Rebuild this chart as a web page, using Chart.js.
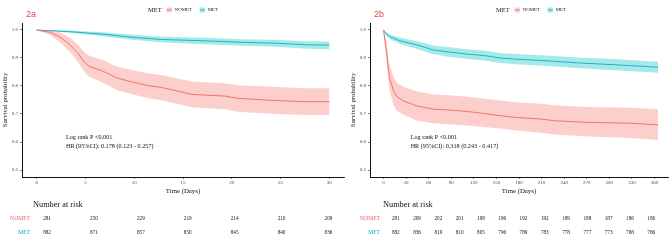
<!DOCTYPE html>
<html>
<head>
<meta charset="utf-8">
<script src="https://cdn.jsdelivr.net/npm/chart.js@4.4.0/dist/chart.umd.min.js"></script>
<style>
  html, body { margin: 0; padding: 0; background: #fff; }
  #wrap { position: relative; width: 669px; height: 242px; overflow: hidden; }
  .panel { position: absolute; top: 0; height: 242px; }
</style>
</head>
<body>
<div id="wrap">
  <div class="panel" style="left:0;width:346px"><canvas id="chart2a"></canvas></div>
  <div class="panel" style="left:334px;width:335px"><canvas id="chart2b"></canvas></div>
</div>
<script>
// ---- 2a : 30 days ----
var nometDaysA  = [0, 1.35, 2.35, 3.4, 4.2, 4.9, 5.4, 6.8, 8.2, 9.5, 11.2, 12.9, 14.6, 15.9, 19.3, 20.6, 24, 27.5, 30];
var nometSurvA  = [1, 0.992, 0.976, 0.947, 0.918, 0.885, 0.87, 0.853, 0.829, 0.817, 0.803, 0.794, 0.781, 0.77, 0.764, 0.756, 0.749, 0.744, 0.744];
var nometUpperA = [1, 0.998, 0.992, 0.972, 0.948, 0.92, 0.908, 0.893, 0.87, 0.859, 0.846, 0.838, 0.826, 0.816, 0.81, 0.803, 0.797, 0.792, 0.792];
var nometLowerA = [1, 0.983, 0.958, 0.922, 0.888, 0.85, 0.833, 0.812, 0.786, 0.773, 0.758, 0.748, 0.735, 0.724, 0.717, 0.708, 0.701, 0.696, 0.696];

var metDaysA  = [0, 3.4, 6.8, 9.5, 12.9, 17.5, 21, 24.4, 27.8, 30];
var metSurvA  = [1, 0.994, 0.985, 0.975, 0.966, 0.961, 0.956, 0.953, 0.947, 0.946];
var metUpperA = [1, 0.998, 0.992, 0.984, 0.976, 0.972, 0.967, 0.965, 0.96, 0.959];
var metLowerA = [1, 0.99, 0.978, 0.966, 0.955, 0.949, 0.944, 0.94, 0.933, 0.931];

var xTicksA = [0, 5, 10, 15, 20, 25, 30];
var riskNometA = [281, 250, 229, 219, 214, 210, 209];
var riskMetA   = [882, 871, 857, 850, 845, 840, 836];
var statsA = ["Log rank P <0.001", "HR (95%CI): 0.178 (0.123 - 0.257)"];

// ---- 2b : 365 days ----
var nometDaysB  = [0, 2, 4, 6.2, 8, 10.7, 13, 17, 26, 44, 66, 88, 111, 133, 155, 175, 209, 227, 271, 329, 365];
var nometSurvB  = [1, 0.96, 0.923, 0.865, 0.83, 0.806, 0.785, 0.764, 0.747, 0.729, 0.717, 0.714, 0.709, 0.702, 0.694, 0.688, 0.682, 0.676, 0.67, 0.667, 0.661];
var nometUpperB = [1, 0.985, 0.955, 0.905, 0.875, 0.855, 0.835, 0.813, 0.797, 0.781, 0.77, 0.767, 0.762, 0.755, 0.748, 0.742, 0.737, 0.731, 0.725, 0.722, 0.717];
var nometLowerB = [1, 0.935, 0.89, 0.825, 0.785, 0.758, 0.735, 0.713, 0.697, 0.677, 0.667, 0.663, 0.659, 0.654, 0.648, 0.642, 0.633, 0.627, 0.62, 0.614, 0.607];

var metDaysB  = [0, 3, 8.4, 22, 44, 66, 88, 111, 133, 155, 175, 217, 262, 307, 365];
var metSurvB  = [1, 0.988, 0.976, 0.961, 0.947, 0.929, 0.921, 0.914, 0.909, 0.9, 0.896, 0.89, 0.882, 0.876, 0.867];
var metUpperB = [1, 0.993, 0.984, 0.972, 0.961, 0.945, 0.938, 0.931, 0.927, 0.918, 0.914, 0.909, 0.901, 0.896, 0.887];
var metLowerB = [1, 0.983, 0.968, 0.95, 0.933, 0.913, 0.904, 0.897, 0.891, 0.882, 0.878, 0.871, 0.863, 0.856, 0.847];

var xTicksB = [0, 30, 60, 90, 120, 150, 180, 210, 240, 270, 300, 330, 360];
var riskNometB = [281, 209, 202, 201, 198, 196, 192, 192, 189, 188, 187, 186, 186];
var riskMetB   = [882, 836, 819, 810, 805, 796, 789, 783, 778, 777, 773, 768, 766];
var statsB = ["Log rank P <0.001", "HR (95%CI): 0.318 (0.243 - 0.417)"];

var yTicks = [0.5, 0.6, 0.7, 0.8, 0.9, 1.0];
var groups = ["NOMET", "MET"];

var redLine = "#E4655D", redBand = "rgba(248,118,109,0.35)";
var tealLine = "#12AAAE", tealBand = "rgba(0,191,196,0.35)";
var serif = "'Liberation Serif', 'DejaVu Serif', serif";

function pts(days, vals){
	return days.map(function(d, i){ return { x: d, y: vals[i] }; });
}

var kmPlugin = {
	id: 'kmExtras',
	afterDraw: function(chart){
		var o = chart.options.plugins.kmExtras;
		var ctx = chart.ctx;
		var xs = chart.scales.x, ys = chart.scales.y;
		ctx.save();

		// panel tag
		ctx.fillStyle = "#DD4B45";
		ctx.font = "9px 'Liberation Sans', Arial, sans-serif";
		ctx.textBaseline = 'middle';
		ctx.textAlign = 'left';
		ctx.fillText(o.tag, o.tagX, 15);

		// legend: title + keys
		var lx = o.legendX, ly = 10;
		ctx.fillStyle = "#222";
		ctx.font = "6.5px " + serif;
		ctx.fillText("MET", lx, ly);
		lx += ctx.measureText("MET").width + 5;
		var keyCols = [[redBand, redLine], [tealBand, tealLine]];
		for (var g = 0; g < groups.length; g++){
			ctx.fillStyle = keyCols[g][0];
			ctx.fillRect(lx, ly - 2.5, 5, 5);
			ctx.strokeStyle = keyCols[g][1];
			ctx.lineWidth = 0.8;
			ctx.beginPath(); ctx.moveTo(lx, ly); ctx.lineTo(lx + 5, ly); ctx.stroke();
			lx += 8;
			ctx.fillStyle = "#222";
			ctx.font = "4.8px " + serif;
			ctx.fillText(groups[g], lx, ly);
			lx += ctx.measureText(groups[g]).width + 8;
		}

		// stats text
		ctx.fillStyle = "#111";
		ctx.font = "6.2px " + serif;
		ctx.fillText(o.stats[0], xs.getPixelForValue(o.statsAt[0]), ys.getPixelForValue(o.statsAt[1]));
		ctx.fillText(o.stats[1], xs.getPixelForValue(o.statsAt[0]), ys.getPixelForValue(o.statsAt[1]) + 9.5);

		// number at risk table
		var rl = xs.left + o.riskInset[0], rr = xs.right - o.riskInset[1];
		function rx(v){ return rl + (xs.getPixelForValue(v) - xs.left) / xs.width * (rr - rl); }
		ctx.fillStyle = "#111";
		ctx.font = "8.3px " + serif;
		ctx.fillText("Number at risk", rl, 205);
		var rows = [[o.riskNomet, redLine, 219], [o.riskMet, tealLine, 233]];
		for (var r = 0; r < rows.length; r++){
			ctx.textAlign = 'right';
			ctx.fillStyle = rows[r][1];
			ctx.font = "5.6px " + serif;
			ctx.fillText(groups[r], rl - 3, rows[r][2]);
			ctx.textAlign = 'center';
			ctx.fillStyle = "#111";
			ctx.font = "5.2px " + serif;
			for (var k = 0; k < o.ticks.length; k++){
				ctx.fillText(String(rows[r][0][k]), rx(o.ticks[k]), rows[r][2]);
			}
		}
		ctx.restore();
	}
};

function init_km_chart(id, cfg){
	var bandBase = { pointRadius: 0, borderWidth: 0, tension: 0 };
	var settings = {
		type: 'line',
		data: {
			datasets: [
				Object.assign({ label: 'nometUp', data: pts(cfg.nometDays, cfg.nometUpper), fill: '+1', backgroundColor: redBand }, bandBase),
				Object.assign({ label: 'nometLo', data: pts(cfg.nometDays, cfg.nometLower), fill: false }, bandBase),
				Object.assign({ label: 'metUp', data: pts(cfg.metDays, cfg.metUpper), fill: '+1', backgroundColor: tealBand }, bandBase),
				Object.assign({ label: 'metLo', data: pts(cfg.metDays, cfg.metLower), fill: false }, bandBase),
				{ label: 'NOMET', data: pts(cfg.nometDays, cfg.nometSurv), borderColor: redLine, borderWidth: 0.9, pointRadius: 0, fill: false, tension: 0 },
				{ label: 'MET', data: pts(cfg.metDays, cfg.metSurv), borderColor: tealLine, borderWidth: 0.9, pointRadius: 0, fill: false, tension: 0 }
			]
		},
		options: {
			responsive: false,
			animation: false,
			layout: { padding: { left: cfg.padLeft, right: cfg.padRight, top: 23, bottom: 45 } },
			plugins: {
				legend: { display: false },
				tooltip: { enabled: false },
				kmExtras: {
					tag: cfg.tag, tagX: cfg.tagX, legendX: cfg.legendX,
					stats: cfg.stats, statsAt: cfg.statsAt,
					ticks: cfg.ticks, riskNomet: cfg.riskNomet, riskMet: cfg.riskMet,
					riskInset: cfg.riskInset
				}
			},
			scales: {
				x: {
					type: 'linear', min: cfg.xMin, max: cfg.xMax,
					afterBuildTicks: function(s){ s.ticks = cfg.ticks.map(function(v){ return { value: v }; }); },
					afterFit: function(s){ s.height = 20; },
					grid: { display: true, drawOnChartArea: false, drawTicks: true, tickLength: 2, color: '#333', lineWidth: 0.6 },
					border: { display: true, color: '#111', width: 1 },
					ticks: { color: '#444', font: { size: 5, family: serif }, padding: 1, maxRotation: 0, autoSkip: false },
					title: { display: true, text: 'Time (Days)', color: '#111', font: { size: 6.8, family: serif }, padding: { top: 1, bottom: 2 } }
				},
				y: {
					type: 'linear', min: 0.475, max: 1.025,
					afterBuildTicks: function(s){ s.ticks = yTicks.map(function(v){ return { value: v }; }); },
					afterFit: function(s){ s.width = 22; },
					grid: { display: true, drawOnChartArea: false, drawTicks: true, tickLength: 2, color: '#333', lineWidth: 0.6 },
					border: { display: true, color: '#111', width: 1 },
					ticks: { color: '#444', font: { size: 5, family: serif }, padding: 2, callback: function(v){ return Number(v).toFixed(1); } },
					title: { display: true, text: 'Survival probability', color: '#111', font: { size: 6.8, family: serif }, padding: { top: 1, bottom: 1 } }
				}
			}
		},
		plugins: [kmPlugin]
	};
	var el = document.getElementById(id);
	el.width = cfg.width; el.height = 242;
	return new Chart(el, settings);
}

init_km_chart('chart2a', {
	width: 346, padLeft: 0, padRight: 2, tag: '2a', tagX: 26, legendX: 148,
	xMin: -1.5, xMax: 31.5, ticks: xTicksA,
	nometDays: nometDaysA, nometSurv: nometSurvA, nometUpper: nometUpperA, nometLower: nometLowerA,
	metDays: metDaysA, metSurv: metSurvA, metUpper: metUpperA, metLower: metLowerA,
	riskNomet: riskNometA, riskMet: riskMetA, riskInset: [11, 1.5],
	stats: statsA, statsAt: [3, 0.618]
});

init_km_chart('chart2b', {
	width: 335, padLeft: 14, padRight: 1, tag: '2b', tagX: 40, legendX: 162,
	xMin: -18, xMax: 378, ticks: xTicksB,
	nometDays: nometDaysB, nometSurv: nometSurvB, nometUpper: nometUpperB, nometLower: nometLowerB,
	metDays: metDaysB, metSurv: metSurvB, metUpper: metUpperB, metLower: metLowerB,
	riskNomet: riskNometB, riskMet: riskMetB, riskInset: [13, 4],
	stats: statsB, statsAt: [36, 0.618]
});
</script>
</body>
</html>
